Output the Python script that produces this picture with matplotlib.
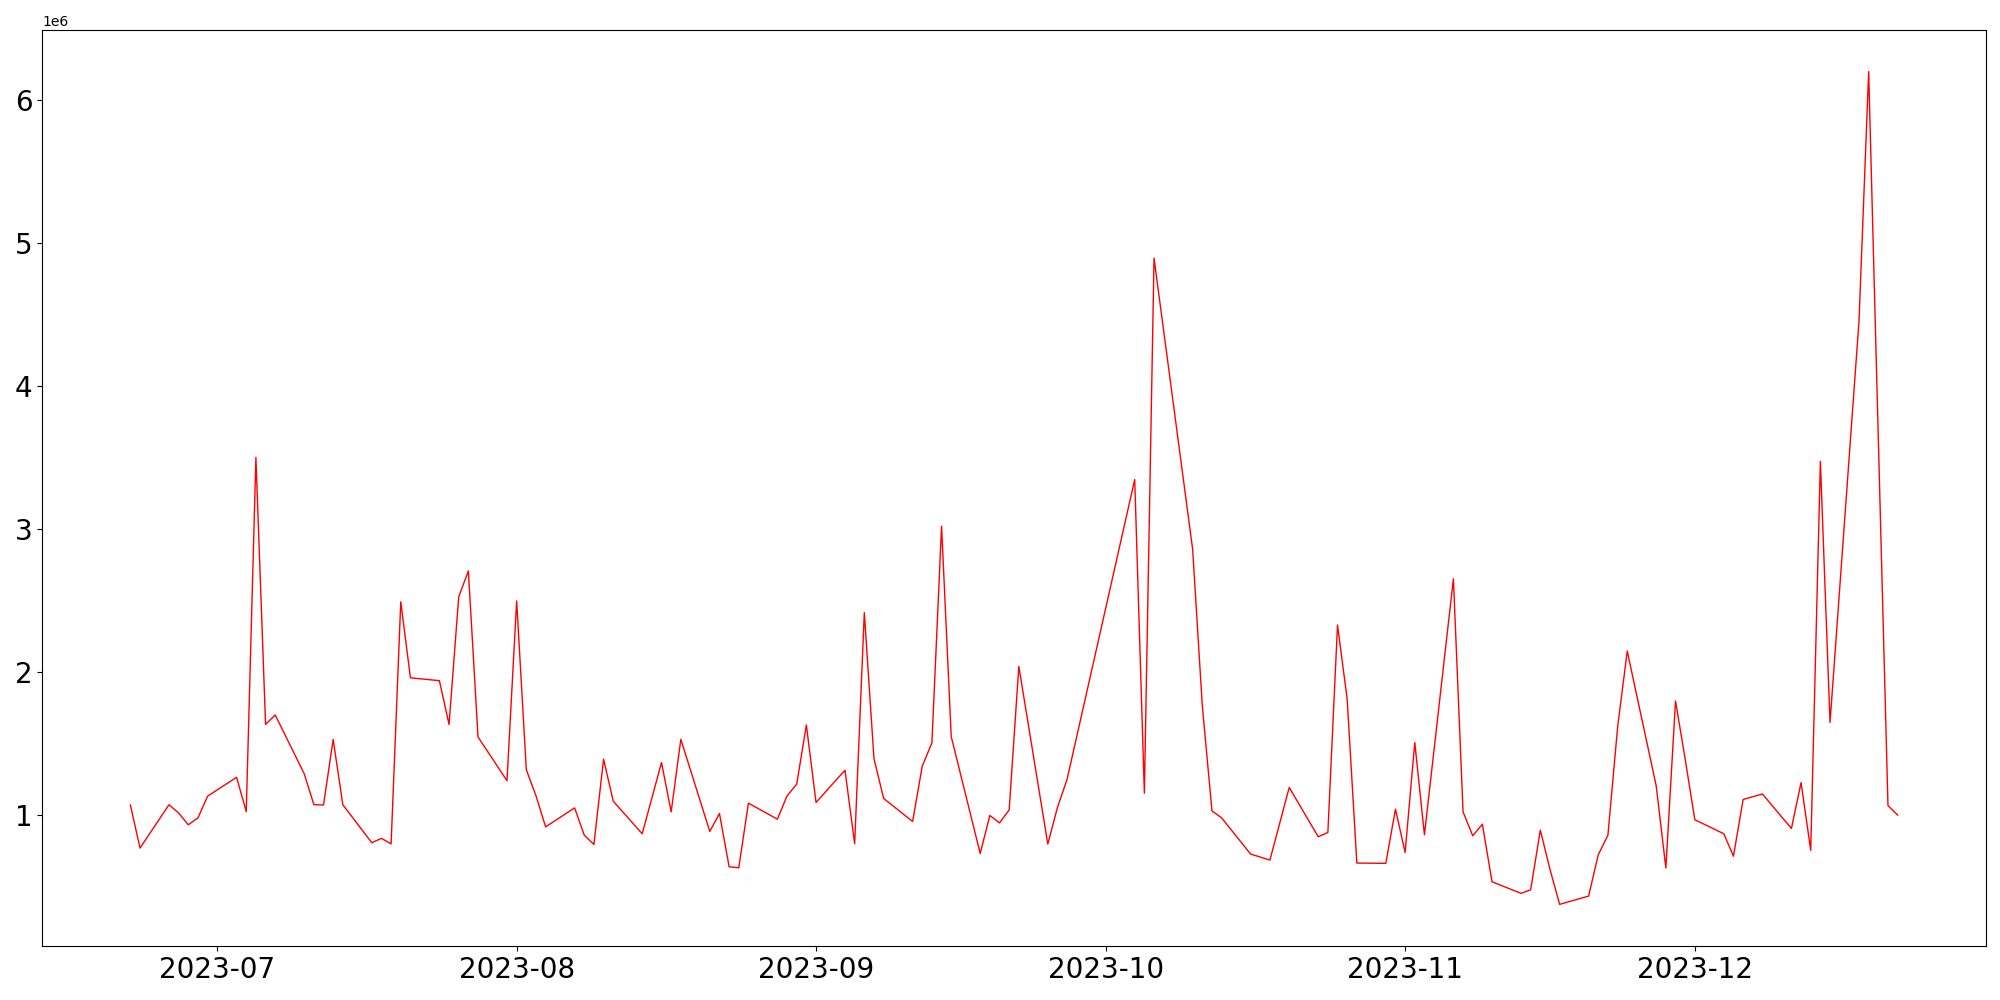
import matplotlib
matplotlib.use("Agg")
import matplotlib.pyplot as plt
import pandas as pd

dates = [
    "2023-06-22", "2023-06-23", "2023-06-26", "2023-06-27", "2023-06-28", "2023-06-29", "2023-06-30",
    "2023-07-03", "2023-07-04", "2023-07-05", "2023-07-06", "2023-07-07",
    "2023-07-10", "2023-07-11", "2023-07-12", "2023-07-13", "2023-07-14",
    "2023-07-17", "2023-07-18", "2023-07-19", "2023-07-20", "2023-07-21",
    "2023-07-24", "2023-07-25", "2023-07-26", "2023-07-27", "2023-07-28",
    "2023-07-31", "2023-08-01", "2023-08-02", "2023-08-03", "2023-08-04",
    "2023-08-07", "2023-08-08", "2023-08-09", "2023-08-10", "2023-08-11",
    "2023-08-14", "2023-08-16", "2023-08-17", "2023-08-18",
    "2023-08-21", "2023-08-22", "2023-08-23", "2023-08-24", "2023-08-25",
    "2023-08-28", "2023-08-29", "2023-08-30", "2023-08-31", "2023-09-01",
    "2023-09-04", "2023-09-05", "2023-09-06", "2023-09-07", "2023-09-08",
    "2023-09-11", "2023-09-12", "2023-09-13", "2023-09-14", "2023-09-15",
    "2023-09-18", "2023-09-19", "2023-09-20", "2023-09-21", "2023-09-22",
    "2023-09-25", "2023-09-26", "2023-09-27",
    "2023-10-04", "2023-10-05", "2023-10-06",
    "2023-10-10", "2023-10-11", "2023-10-12", "2023-10-13",
    "2023-10-16", "2023-10-18", "2023-10-20",
    "2023-10-23", "2023-10-24", "2023-10-25", "2023-10-26", "2023-10-27",
    "2023-10-30", "2023-10-31", "2023-11-01", "2023-11-02", "2023-11-03",
    "2023-11-06", "2023-11-07", "2023-11-08", "2023-11-09", "2023-11-10",
    "2023-11-13", "2023-11-14", "2023-11-15", "2023-11-16", "2023-11-17",
    "2023-11-20", "2023-11-21", "2023-11-22", "2023-11-23", "2023-11-24",
    "2023-11-27", "2023-11-28", "2023-11-29", "2023-11-30", "2023-12-01",
    "2023-12-04", "2023-12-05", "2023-12-06", "2023-12-08",
    "2023-12-11", "2023-12-12", "2023-12-13", "2023-12-14", "2023-12-15",
    "2023-12-18", "2023-12-19", "2023-12-21", "2023-12-22",
]

values_millions = [
    1.068, 0.767, 1.070, 1.012, 0.930, 0.978, 1.130,
    1.262, 1.022, 3.500, 1.632, 1.698,
    1.287, 1.071, 1.068, 1.527, 1.070,
    0.804, 0.835, 0.796, 2.490, 1.958,
    1.938, 1.632, 2.524, 2.706, 1.544,
    1.238, 2.496, 1.315, 1.133, 0.915,
    1.048, 0.857, 0.792, 1.389, 1.095,
    0.867, 1.365, 1.020, 1.528,
    0.883, 1.009, 0.636, 0.629, 1.081,
    0.969, 1.132, 1.214, 1.628, 1.086,
    1.312, 0.797, 2.414, 1.393, 1.114,
    0.953, 1.340, 1.503, 3.019, 1.547,
    0.729, 0.995, 0.943, 1.034, 2.038,
    0.795, 1.051, 1.249,
    3.345, 1.151, 4.894,
    2.856, 1.761, 1.027, 0.978,
    0.725, 0.683, 1.191,
    0.846, 0.876, 2.327, 1.808, 0.662,
    0.660, 1.039, 0.736, 1.505, 0.860,
    2.651, 1.020, 0.853, 0.934, 0.531,
    0.450, 0.475, 0.892, 0.618, 0.373,
    0.431, 0.720, 0.857, 1.610, 2.145,
    1.202, 0.627, 1.796, 1.389, 0.965,
    0.867, 0.710, 1.107, 1.145,
    0.904, 1.225, 0.751, 3.472, 1.646,
    4.454, 6.199, 1.064, 0.998,
]

x = pd.to_datetime(dates)
y = [v * 1e6 for v in values_millions]

fig = plt.figure(figsize=(20, 10), dpi=100)
ax = fig.add_subplot(111)
ax.plot(x, y, color="red", linewidth=1.0)
ax.tick_params(axis="both", labelsize=20)
fig.subplots_adjust(left=0.021, right=0.993, top=0.97, bottom=0.054)
fig.savefig("out.png", dpi=100)
